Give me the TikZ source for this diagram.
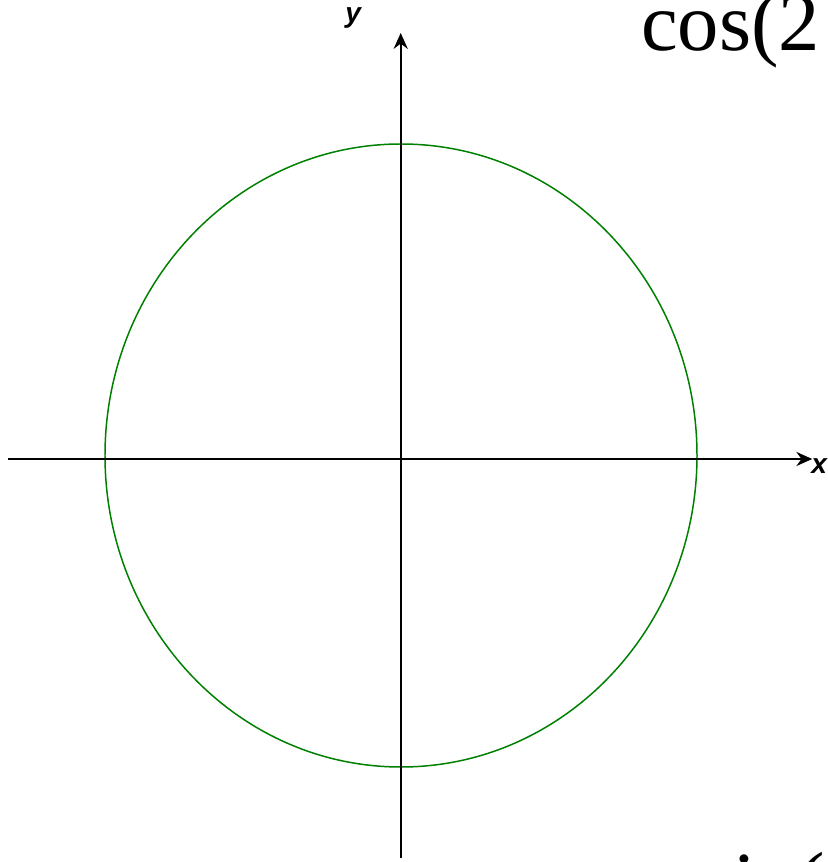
\documentclass[tikz,border=0pt]{standalone}
\usepackage{fontspec}
\setmainfont{Liberation Serif}
\setsansfont{Liberation Sans}
\usetikzlibrary{arrows.meta}
\tikzset{axis/.style={black, line width=1.2pt, -{Stealth[length=9pt,width=8pt]}},
  axislabel/.style={font=\sffamily\bfseries\itshape\fontsize{16}{18}\selectfont},
  bigtext/.style={font=\fontsize{47}{52}\selectfont, anchor=base west, inner sep=0pt}}

\begin{document}
\begin{tikzpicture}[x=1cm,y=1cm]
\useasboundingbox (-8.014,-8.06) rectangle (8.526,9.18);
\coordinate (xl) at (-7.85,0);
\coordinate (xr) at (8.23,0);
\coordinate (yb) at (0,-7.98);
\coordinate (yt) at (0,8.52);
\draw[green!50!black, line width=0.85pt] (0.006,0.07) ellipse (5.92 and 6.23);
\draw[axis] (xl) -- (xr);
\draw[axis] (yb) -- (yt);
\node[axislabel] (xlab) at (8.37,-0.14) {x};
\node[axislabel] (ylab) at (-0.95,8.82) {y};
\node[bigtext] (cos) at (4.8,8.16) {cos(2};
\node[bigtext] (sin) at (6.0,-9.0) {sin(};
\end{tikzpicture}
\end{document}
